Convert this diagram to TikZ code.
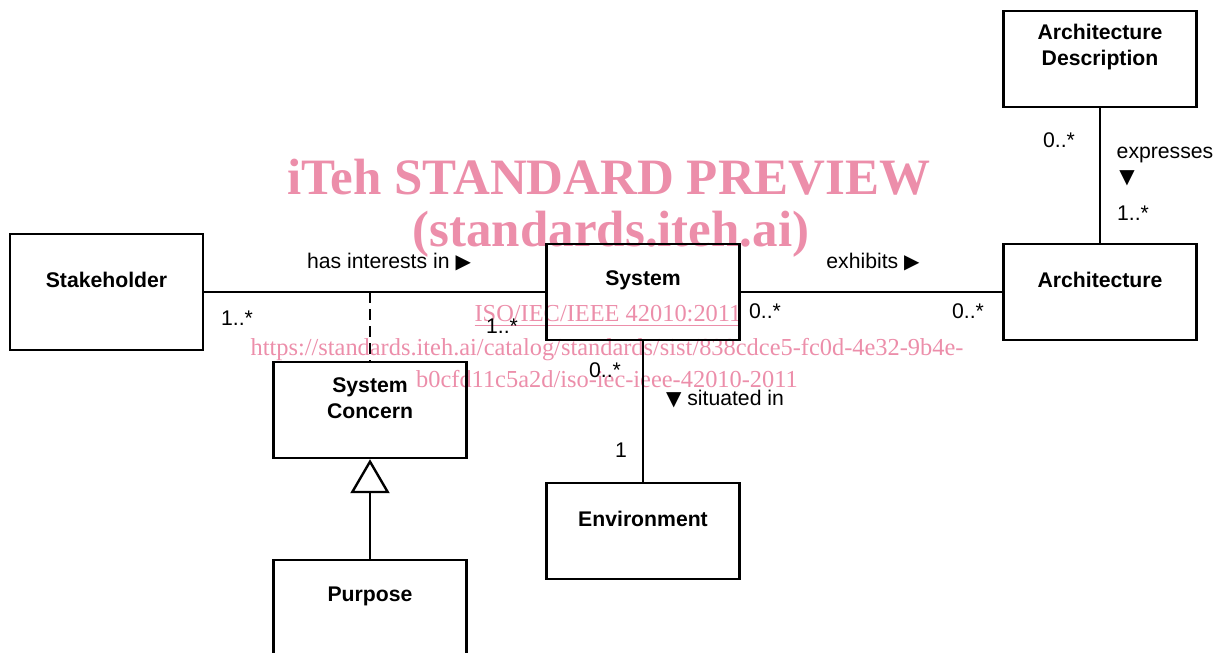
\documentclass[tikz,border=0pt]{standalone}
\usepackage{fontspec}
\setmainfont{Liberation Sans}
\newfontfamily\wmfont{Liberation Serif}
\newfontfamily\symfont{DejaVu Sans}
\usetikzlibrary{arrows.meta, positioning}
\definecolor{wmpink}{RGB}{236, 142, 170}
\tikzset{
  assocline/.style={line width=1.2pt, black},
  dependline/.style={line width=1.3pt, black, dash pattern=on 5.5pt off 3pt},
  genarrow/.style={-{Triangle[open, length=17pt, width=19.5pt, line width=1.2pt]}, line width=1.2pt, black}
}
\newcommand{\rtri}{{\symfont\fontsize{10}{12}\selectfont ▶}}
\newcommand{\dtri}{{\symfont\fontsize{10}{12}\selectfont ▼}}

\begin{document}
\begin{tikzpicture}[x=0.5pt, y=-0.5pt,
    boxtext/.style={font=\fontsize{10.6}{13}\selectfont\bfseries, align=center, yshift=6pt},
    classbox/.style={draw, line width=1.2pt, minimum width=96.5pt, minimum height=48pt, inner sep=0pt, label={[boxtext]center:#1}},
    mult/.style={font=\fontsize{10.6}{13}\selectfont, inner sep=0pt},
    wmbig/.style={font=\wmfont\bfseries\fontsize{25.5}{30}\selectfont, text=wmpink, inner sep=0pt},
    wmsmall/.style={font=\wmfont\fontsize{12.2}{15}\selectfont, text=wmpink, inner sep=0pt}]

    \useasboundingbox (0, 0) rectangle (1218, 652);

    % rows
    \def\yTop{59}
    \def\yMain{292}
    \def\yConcern{410}
    \def\yEnv{531}
    \def\yPurpose{608}

    % Watermark
    \node[wmbig] (wm1) at (609, 177) {iTeh STANDARD PREVIEW};
    \node[wmbig] (wm2) at (611, 234) {(standards.iteh.ai)};
    \node[wmsmall] (wm3) at (608, 316) {\underline{ISO/IEC/IEEE 42010:2011}};
    \node[wmsmall] (wm4) at (607, 350) {https://standards.iteh.ai/catalog/standards/sist/838cdce5-fc0d-4e32-9b4e-};
    \node[wmsmall] (wm5) at (607, 379) {b0cfd11c5a2d/iso-iec-ieee-42010-2011};

    % Classes
    \node[classbox={Stakeholder}, minimum height=58pt] (stake) at (106.5, \yMain) {};
    \node[classbox={System}] (system) at (643, \yMain) {};
    \node[classbox={Architecture}] (arch) at (1100, \yMain) {};
    \node[classbox={Architecture\\Description}] (archdesc) at (1100, \yTop) {};
    \node[classbox={System\\Concern}] (concern) at (370, \yConcern) {};
    \node[classbox={Environment}] (env) at (643, \yEnv) {};
    \node[classbox={Purpose}] (purpose) at (370, \yPurpose) {};

    % Associations
    \draw[assocline] (stake.east) -- (system.west);
    \draw[assocline] (system.east) -- (arch.west);
    \draw[assocline] (system) -- (env);
    \draw[assocline] (archdesc) -- (arch);

    % Association class link
    \coordinate (interest) at (370, \yMain);
    \draw[dependline] (interest) -- (concern);

    % Generalization
    \draw[genarrow] (purpose) -- (concern);

    % Association names
    \node[mult] (hasint) at (389, 262) {has interests in \rtri};
    \node[mult] (exhibits) at (873, 262) {exhibits \rtri};
    \node[mult] (situated) at (725, 399) {\dtri\ situated in};
    \node[mult] (expresses) at (1165, 155) {expresses};
    \node[mult] (exparrow) at (1127, 178) {\dtri};

    % Multiplicities
    \node[mult] (m1) at (237, 318) {1..*};
    \node[mult] (m2) at (502, 326) {1..*};
    \node[mult] (m3) at (765, 311) {0..*};
    \node[mult] (m4) at (968, 311) {0..*};
    \node[mult] (m5) at (605, 370) {0..*};
    \node[mult] (m6) at (621, 450) {1};
    \node[mult] (m7) at (1059, 140) {0..*};
    \node[mult] (m8) at (1133, 213) {1..*};

\end{tikzpicture}
\end{document}
